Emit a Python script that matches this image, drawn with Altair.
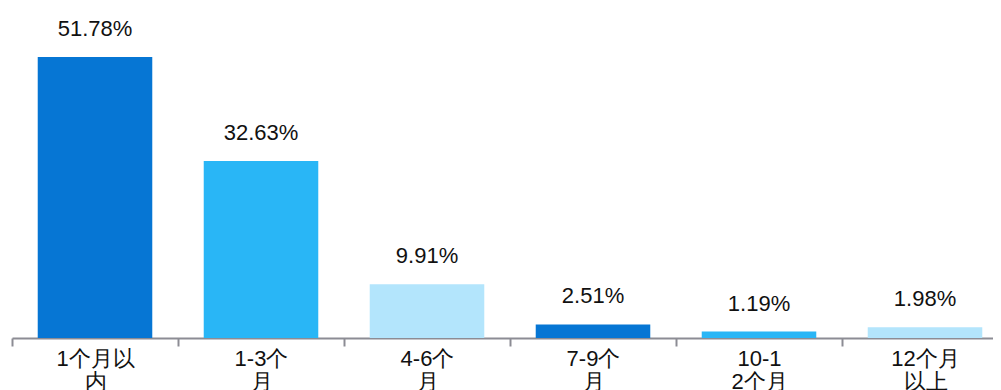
import altair as alt
import pandas as pd

categories = ["1个月以内", "1-3个月", "4-6个月", "7-9个月", "10-12个月", "12个月以上"]
label_lines = [["1个月以", "内"], ["1-3个", "月"], ["4-6个", "月"], ["7-9个", "月"], ["10-1", "2个月"], ["12个月", "以上"]]
values = [51.78, 32.63, 9.91, 2.51, 1.19, 1.98]
value_labels = ["51.78%", "32.63%", "9.91%", "2.51%", "1.19%", "1.98%"]
palette = ["#0676d4", "#29b6f6", "#b3e5fc"]

df = pd.DataFrame({
    "cat": categories,
    "value": values,
    "label": value_labels,
    "colorkey": ["a", "b", "c", "a", "b", "c"],
})

mapping = ", ".join(
    "'" + c + "': [" + ", ".join("'" + s + "'" for s in lines) + "]"
    for c, lines in zip(categories, label_lines)
)
label_expr = "{" + mapping + "}[datum.value]"

FONT = "Liberation Sans"

x = alt.X(
    "cat:N",
    sort=categories,
    scale=alt.Scale(paddingInner=0, paddingOuter=0, range=[0, 996]),
    axis=alt.Axis(
        title=None,
        labelAngle=0,
        labelExpr=label_expr,
        labelFont=FONT,
        labelFontSize=22,
        labelColor="#111111",
        labelLineHeight=23,
        labelPadding=2,
        labelBaseline="top",
        domainColor="#8c8c94",
        domainWidth=2,
        tickColor="#8c8c94",
        tickWidth=2,
        tickSize=8,
        tickBand="extent",
        bandPosition=0,
        labelBound=False,
        labelOverlap=False,
    ),
)
y = alt.Y("value:Q", scale=alt.Scale(domain=[0, 60.8]), axis=None)

bars = alt.Chart(df).mark_bar(width=alt.RelativeBandSize(0.69)).encode(
    x=x,
    y=y,
    color=alt.Color("colorkey:N", scale=alt.Scale(domain=["a", "b", "c"], range=palette), legend=None),
)

texts = alt.Chart(df).mark_text(
    font=FONT, fontSize=22, color="#111111", baseline="alphabetic", dy=-21
).encode(x=x, y=y, text="label:N")

chart = (
    alt.layer(bars, texts)
    .properties(
        width=981,
        height=330,
        padding={"left": 4, "top": 0, "right": 0, "bottom": 60},
        autosize=alt.AutoSizeParams(type="none"),
    )
    .configure_view(stroke=None)
)

chart.save("out.html", embed_options={"renderer": "svg", "actions": False})
